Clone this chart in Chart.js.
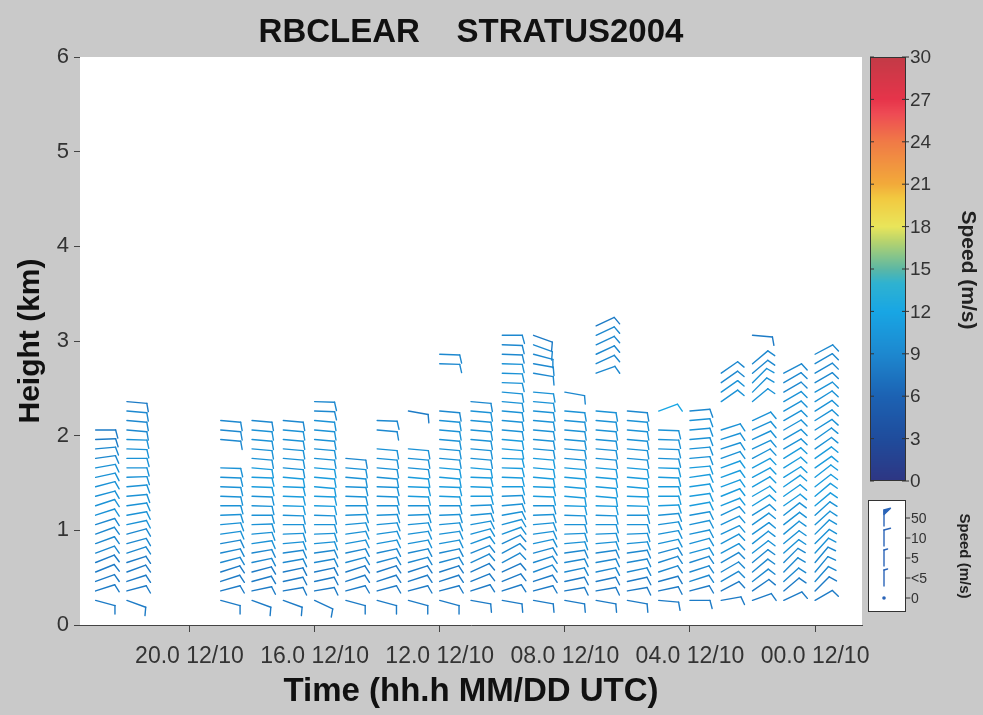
<!DOCTYPE html>
<html>
<head>
<meta charset="utf-8">
<title>RBCLEAR STRATUS2004</title>
<script src="https://cdn.jsdelivr.net/npm/chart.js@4.4.1/dist/chart.umd.min.js"></script>
<style>
    html, body { margin: 0; padding: 0; background: #c9c9c9; }
    #wrap { width: 983px; height: 715px; }
</style>
</head>
<body>
<div id="wrap"><canvas id="profiler" width="983" height="715"></canvas></div>
<script>
// ===============================
// Data
// ===============================
// profile times, hours (axis runs backwards in time)
const colTimes = [23, 22, 19, 18, 17, 16, 15, 14, 13, 12, 11, 10, 9, 8, 7, 6, 5, 4, 3, 2, 1, 0];

// range gates, km
const gateHeights = [0.26, 0.36, 0.46, 0.56, 0.66, 0.76, 0.86, 0.96, 1.06, 1.16,
                     1.26, 1.36, 1.46, 1.56, 1.66, 1.76, 1.86, 1.96, 2.06, 2.16,
                     2.26, 2.36, 2.46, 2.56, 2.66, 2.76, 2.86, 2.96, 3.06, 3.16];

// wind direction (deg, from) per gate, bottom -> top, null = no barb
const colDirs = [
    [105, 72, 70, 68, 68, 70, 70, 70, 72, 72, 72, 75, 75, 78, 80, 82, 85, 88, 90],
    [110, 75, 72, 70, 72, 72, 75, 75, 78, 80, 82, 85, 85, 88, 90, 90, 92, 92, 95, 95, 95, 95],
    [105, 75, 72, 72, 75, 78, 80, 82, 85, 88, 90, 92, 92, 92, 92, null, null, 95, 95, 95],
    [110, 78, 75, 75, 78, 80, 82, 85, 88, 90, 92, 92, 92, 92, 95, 95, 95, 95, 95, 95],
    [110, 80, 78, 78, 80, 82, 85, 88, 90, 92, 92, 92, 92, 95, 95, 95, 95, 95, 95, 95],
    [115, 80, 78, 78, 80, 82, 85, 88, 90, 92, 92, 92, 95, 95, 95, 95, 95, 95, 95, 95, 92, 92],
    [105, 75, 72, 72, 75, 78, 80, 82, 85, 88, 90, 92, 92, 95, 95, 95],
    [105, 75, 72, 72, 75, 78, 80, 82, 85, 88, 90, 92, 92, 95, 95, 95, 95, null, 95, 92],
    [105, 75, 72, 72, 75, 78, 80, 82, 85, 88, 90, 92, 92, 95, 95, 95, 95, null, null, null, 100],
    [105, 75, 72, 72, 75, 78, 80, 82, 85, 88, 90, 92, 92, 95, 95, 95, 95, 95, 95, 95, 95, null, null, null, null, 92, 92],
    [100, 72, 68, 65, 65, 68, 70, 75, 80, 85, 88, 90, 92, 92, 95, 95, 95, 95, 95, 95, 95, 95],
    [100, 72, 68, 65, 62, 62, 65, 70, 75, 80, 85, 88, 90, 92, 92, 92, 95, 95, 95, 95, 95, 95, 95, 92, 92, 92, 92, 92, 90],
    [100, 75, 72, 70, 72, 75, 78, 82, 85, 88, 90, 92, 92, 95, 95, 95, 95, 95, 95, 95, 95, 95, 95, null, 100, 100, 105, 110, 110],
    [100, 80, 78, 78, 80, 82, 85, 88, 90, 92, 92, 95, 95, 95, 95, 95, 95, 95, 95, 95, 95, null, 100],
    [100, 80, 78, 78, 80, 82, 85, 88, 90, 92, 92, 95, 95, 95, 95, 95, 95, 95, 95, 95, 95, null, null, null, 70, 65, 65, 65, 65, 65],
    [100, 80, 78, 78, 80, 82, 85, 88, 90, 90, 92, 92, 95, 95, 95, 95, 95, 95, 95, 95, 95],
    [95, 78, 75, 72, 72, 75, 78, 80, 82, 85, 88, 90, 90, 92, 92, 92, 92, 92, 92, null, 70],
    [90, 75, 72, 72, 72, 75, 75, 78, 78, 80, 80, 82, 82, 82, 85, 85, 85, 85, 85, 85, 85],
    [80, 62, 60, 60, 60, 62, 62, 65, 65, 65, 68, 68, 70, 70, 70, 70, 72, 72, 72, null, null, 55, 55, 55, 55],
    [70, 55, 52, 50, 50, 52, 52, 55, 55, 58, 58, 60, 60, 62, 62, 62, 65, 65, 65, 65, null, 50, 45, 45, 50, 50, null, null, 95],
    [65, 50, 48, 45, 45, 48, 50, 50, 52, 52, 55, 55, 55, 58, 58, 58, 60, 60, 60, 60, 60, 60, 60, 60, 62],
    [60, 45, 42, 40, 40, 42, 45, 45, 48, 48, 50, 50, 52, 52, 55, 55, 55, 55, 58, 58, 58, 58, 60, 60, 60, 60, 62]
];

// wind speed (m/s) per gate, same layout as colDirs
const colSpeeds = [
    [8, 8, 8, 8, 8, 9, 9, 9, 9, 10, 10, 10, 10, 10, 10, 9, 9, 8, 8],
    [8, 8, 8, 8, 8, 9, 9, 9, 10, 10, 10, 10, 10, 10, 10, 10, 10, 10, 9, 9, 9, 8],
    [8, 8, 8, 8, 9, 9, 9, 10, 10, 10, 10, 10, 10, 10, 10, null, null, 9, 9, 9],
    [8, 8, 8, 8, 9, 9, 10, 10, 10, 10, 10, 10, 11, 11, 11, 10, 10, 10, 10, 9],
    [8, 8, 8, 8, 9, 9, 10, 10, 10, 10, 11, 11, 11, 11, 10, 10, 10, 10, 10, 9],
    [8, 8, 8, 8, 9, 9, 10, 10, 10, 10, 11, 11, 11, 11, 11, 10, 10, 10, 10, 10, 9, 9],
    [8, 8, 8, 8, 9, 9, 10, 10, 10, 10, 10, 10, 10, 10, 10, 9],
    [8, 8, 8, 8, 9, 9, 10, 10, 10, 10, 10, 10, 10, 10, 10, 10, 10, null, 9, 9],
    [8, 8, 8, 8, 9, 9, 10, 10, 10, 10, 10, 11, 11, 11, 10, 10, 10, null, null, null, 8],
    [8, 8, 8, 8, 9, 9, 10, 10, 10, 10, 10, 11, 11, 11, 11, 10, 10, 10, 10, 10, 9, null, null, null, null, 9, 9],
    [8, 8, 8, 8, 9, 9, 10, 10, 10, 10, 10, 11, 11, 11, 11, 10, 10, 10, 10, 10, 10, 9],
    [8, 8, 8, 8, 9, 9, 9, 10, 10, 10, 10, 10, 11, 11, 11, 11, 11, 11, 10, 10, 10, 10, 10, 10, 10, 10, 9, 9, 9],
    [8, 8, 8, 9, 9, 9, 10, 10, 10, 10, 10, 11, 11, 11, 11, 11, 10, 10, 10, 10, 10, 10, 10, null, 9, 9, 9, 9, 8],
    [8, 8, 8, 9, 9, 9, 10, 10, 10, 10, 11, 11, 11, 11, 11, 10, 10, 10, 10, 10, 10, null, 9],
    [8, 8, 8, 9, 9, 9, 10, 10, 10, 10, 11, 11, 11, 11, 11, 10, 10, 10, 10, 10, 10, null, null, null, 9, 9, 9, 9, 9, 8],
    [8, 8, 8, 9, 9, 9, 10, 10, 10, 10, 11, 11, 11, 11, 11, 10, 10, 10, 10, 10, 9],
    [8, 8, 8, 9, 9, 9, 10, 10, 10, 10, 11, 11, 11, 11, 11, 10, 10, 10, 10, null, 12],
    [8, 8, 9, 9, 9, 10, 10, 10, 10, 10, 11, 11, 11, 11, 11, 10, 10, 10, 10, 10, 9],
    [8, 8, 9, 9, 9, 10, 10, 10, 10, 10, 11, 11, 11, 11, 11, 10, 10, 10, 10, null, null, 10, 10, 9, 9],
    [8, 8, 9, 9, 9, 10, 10, 10, 10, 10, 11, 11, 11, 11, 11, 10, 10, 10, 10, 10, null, 10, 10, 10, 9, 9, null, null, 8],
    [8, 8, 9, 9, 9, 10, 10, 10, 10, 10, 11, 11, 11, 11, 11, 11, 10, 10, 10, 10, 10, 10, 9, 9, 9],
    [8, 8, 9, 9, 9, 10, 10, 10, 10, 10, 11, 11, 11, 11, 11, 11, 10, 10, 10, 10, 10, 10, 10, 9, 9, 9, 9]
];

// axis ticks
const xTickValues = [20, 16, 12, 8, 4, 0];
const xTickLabels = ['20.0 12/10', '16.0 12/10', '12.0 12/10', '08.0 12/10', '04.0 12/10', '00.0 12/10'];
const yTickValues = [0, 1, 2, 3, 4, 5, 6];

// colour bar
const cbTicks = [0, 3, 6, 9, 12, 15, 18, 21, 24, 27, 30];
const cbStops = [0, 3, 6, 9, 12, 14, 15, 17, 18, 20, 21, 24, 26, 27, 30];
const cbColors = ['#2e3683', '#1f4c9c', '#1c62b3', '#1d88cf', '#18a6e4', '#2fb2d0', '#5cb7a4', '#b9d46c',
                  '#e9e55a', '#f2c940', '#f2aa3a', '#f07a46', '#ee4a54', '#e6344a', '#c23a46'];

// barb key
const keySpeeds = [50, 10, 5, 3, 0];
const keyLabels = ['50', '10', '5', '<5', '0'];

// ===============================
// Helpers
// ===============================
const FONT = '"Liberation Sans", Arial, Helvetica, sans-serif';

function hexToRgb(h) {
    const n = parseInt(h.slice(1), 16);
    return [(n >> 16) & 255, (n >> 8) & 255, n & 255];
}

function speedColor(s) {
    if (s <= cbStops[0]) return cbColors[0];
    for (let i = 1; i < cbStops.length; i++) {
        if (s <= cbStops[i]) {
            const t = (s - cbStops[i - 1]) / (cbStops[i] - cbStops[i - 1]);
            const a = hexToRgb(cbColors[i - 1]), b = hexToRgb(cbColors[i]);
            const c = a.map((v, k) => Math.round(v + (b[k] - v) * t));
            return 'rgb(' + c.join(',') + ')';
        }
    }
    return cbColors[cbColors.length - 1];
}

// wind barb, base at (bx, by), staff points to where the wind comes from
function drawBarb(ctx, bx, by, spd, dir, color, len) {
    ctx.strokeStyle = color;
    ctx.fillStyle = color;
    ctx.lineWidth = 1.4;
    ctx.lineCap = 'round';
    ctx.lineJoin = 'round';
    if (spd < 2.5) {
        ctx.beginPath();
        ctx.arc(bx, by, 1.8, 0, Math.PI * 2);
        ctx.fill();
        return;
    }
    const a = dir * Math.PI / 180;
    const ux = Math.sin(a), uy = -Math.cos(a);
    const b = (dir + 75) * Math.PI / 180;
    const vx = Math.sin(b), vy = -Math.cos(b);
    const tx = bx + ux * len, ty = by + uy * len;
    ctx.beginPath();
    ctx.moveTo(bx, by);
    ctx.lineTo(tx, ty);
    ctx.stroke();

    let r = Math.round(spd / 5) * 5;
    const flags = Math.floor(r / 50); r -= flags * 50;
    const full = Math.floor(r / 10); r -= full * 10;
    const half = r >= 5;
    const bl = len * 0.42, step = len * 0.18;
    let d = 0;
    for (let i = 0; i < flags; i++) {
        const p0x = tx - ux * d, p0y = ty - uy * d;
        ctx.beginPath();
        ctx.moveTo(p0x, p0y);
        ctx.lineTo(p0x + vx * bl, p0y + vy * bl);
        ctx.lineTo(tx - ux * (d + step * 1.6), ty - uy * (d + step * 1.6));
        ctx.closePath();
        ctx.fill();
        ctx.stroke();
        d += step * 2;
    }
    for (let i = 0; i < full; i++) {
        const px = tx - ux * d, py = ty - uy * d;
        ctx.beginPath();
        ctx.moveTo(px, py);
        ctx.lineTo(px + vx * bl, py + vy * bl);
        ctx.stroke();
        d += step;
    }
    if (half) {
        const px = tx - ux * d, py = ty - uy * d;
        ctx.beginPath();
        ctx.moveTo(px, py);
        ctx.lineTo(px + vx * bl * 0.55, py + vy * bl * 0.55);
        ctx.stroke();
    }
}

// ===============================
// Points for Chart.js
// ===============================
const barbPoints = [];
colTimes.forEach((t, c) => {
    colDirs[c].forEach((dir, k) => {
        if (dir === null) return;
        barbPoints.push({ x: t, y: gateHeights[k], dir: dir, spd: colSpeeds[c][k] });
    });
});

// ===============================
// Plugins
// ===============================
const plotBackground = {
    id: 'plotBackground',
    beforeDatasetsDraw(chart) {
        const { ctx, chartArea: a } = chart;
        ctx.save();
        ctx.fillStyle = '#ffffff';
        ctx.fillRect(a.left, a.top, a.right - a.left, a.bottom - a.top);
        ctx.restore();
    }
};

const barbLayer = {
    id: 'barbLayer',
    afterDatasetsDraw(chart) {
        const { ctx, scales: { x, y } } = chart;
        ctx.save();
        chart.data.datasets[0].data.forEach(p => {
            drawBarb(ctx, x.getPixelForValue(p.x), y.getPixelForValue(p.y), p.spd, p.dir, speedColor(p.spd), 20);
        });
        ctx.restore();
    }
};

const speedKeys = {
    id: 'speedKeys',
    afterDraw(chart) {
        const ctx = chart.ctx;
        ctx.save();

        // colour bar
        const x0 = 870, x1 = 906, y0 = 57, y1 = 481;
        for (let yy = y0; yy < y1; yy++) {
            ctx.fillStyle = speedColor(30 * (y1 - yy - 0.5) / (y1 - y0));
            ctx.fillRect(x0, yy, x1 - x0, 1);
        }
        ctx.strokeStyle = '#333';
        ctx.lineWidth = 1;
        ctx.strokeRect(x0 + 0.5, y0 + 0.5, x1 - x0 - 1, y1 - y0 - 1);
        ctx.font = '19px ' + FONT;
        ctx.fillStyle = '#333';
        ctx.textAlign = 'left';
        ctx.textBaseline = 'middle';
        cbTicks.forEach(v => {
            const ty = y1 - (y1 - y0) * v / 30;
            ctx.beginPath();
            ctx.moveTo(x0, ty); ctx.lineTo(x0 + 4, ty);
            ctx.moveTo(x1 - 4, ty); ctx.lineTo(x1 + 3, ty);
            ctx.stroke();
            ctx.fillText(String(v), x1 + 4, ty + 1);
        });
        ctx.save();
        ctx.translate(968, 270);
        ctx.rotate(Math.PI / 2);
        ctx.font = 'bold 21px ' + FONT;
        ctx.fillStyle = '#222';
        ctx.textAlign = 'center';
        ctx.fillText('Speed (m/s)', 0, 0);
        ctx.restore();

        // barb key
        const kx0 = 868, kx1 = 906, ky0 = 500, ky1 = 612;
        ctx.fillStyle = '#ffffff';
        ctx.fillRect(kx0, ky0, kx1 - kx0, ky1 - ky0);
        ctx.strokeStyle = '#333';
        ctx.strokeRect(kx0 + 0.5, ky0 + 0.5, kx1 - kx0 - 1, ky1 - ky0 - 1);
        ctx.font = '14px ' + FONT;
        keySpeeds.forEach((s, i) => {
            const ly = 518 + i * 20;
            ctx.strokeStyle = '#333';
            ctx.lineWidth = 1;
            ctx.beginPath();
            ctx.moveTo(kx1, ly); ctx.lineTo(kx1 + 4, ly);
            ctx.stroke();
            ctx.fillStyle = '#333';
            ctx.textAlign = 'left';
            ctx.textBaseline = 'middle';
            ctx.fillText(keyLabels[i], kx1 + 5, ly + 1);
            if (s === 0) {
                drawBarb(ctx, 884, ly, 0, 0, '#2a64b8', 16);
            } else {
                drawBarb(ctx, 884, ly + 8, s, 0, '#2a64b8', 16);
            }
        });
        ctx.save();
        ctx.translate(964, 556);
        ctx.rotate(Math.PI / 2);
        ctx.font = 'bold 15px ' + FONT;
        ctx.fillStyle = '#222';
        ctx.textAlign = 'center';
        ctx.textBaseline = 'middle';
        ctx.fillText('Speed (m/s)', 0, 0);
        ctx.restore();

        ctx.restore();
    }
};

// ===============================
// Chart
// ===============================
const axisColor = '#444';

new Chart(document.getElementById('profiler'), {
    type: 'scatter',
    data: {
        datasets: [{
            data: barbPoints,
            pointRadius: 0,
            pointHoverRadius: 0,
            showLine: false
        }]
    },
    options: {
        responsive: false,
        animation: false,
        events: [],
        layout: { padding: { left: 0, right: 121, top: 0, bottom: 0 } },
        plugins: {
            legend: { display: false },
            tooltip: { enabled: false },
            title: {
                display: true,
                fullSize: false,
                text: 'RBCLEAR    STRATUS2004',
                color: '#111',
                font: { family: FONT, size: 33, weight: 'bold', lineHeight: 1.2 },
                padding: { top: 13, bottom: 4.4 }
            }
        },
        scales: {
            x: {
                type: 'linear',
                reverse: true,
                min: -1.5,
                max: 23.5,
                afterBuildTicks: s => { s.ticks = xTickValues.map(v => ({ value: v })); },
                afterFit: s => { s.height = 90; },
                ticks: {
                    autoSkip: false,
                    maxRotation: 0,
                    padding: 11,
                    color: '#333',
                    font: { family: FONT, size: 23 },
                    callback: v => xTickLabels[xTickValues.indexOf(v)]
                },
                grid: { drawOnChartArea: false, tickLength: 7, color: axisColor },
                border: { color: axisColor, width: 1 },
                title: {
                    display: true,
                    text: 'Time (hh.h MM/DD UTC)',
                    color: '#111',
                    font: { family: FONT, size: 33, weight: 'bold', lineHeight: 1.2 },
                    padding: { top: 0, bottom: 3 }
                }
            },
            y: {
                type: 'linear',
                min: 0,
                max: 6,
                afterBuildTicks: s => { s.ticks = yTickValues.map(v => ({ value: v })); },
                afterFit: s => { s.width = 80; },
                ticks: {
                    padding: 5,
                    color: '#333',
                    font: { family: FONT, size: 22 }
                },
                grid: { drawOnChartArea: false, tickLength: 6, color: axisColor },
                border: { color: axisColor, width: 1 },
                title: {
                    display: true,
                    text: 'Height (km)',
                    color: '#111',
                    font: { family: FONT, size: 30, weight: 'bold', lineHeight: 1.2 },
                    padding: { top: 13, bottom: 0 }
                }
            }
        }
    },
    plugins: [plotBackground, barbLayer, speedKeys]
});
</script>
</body>
</html>
